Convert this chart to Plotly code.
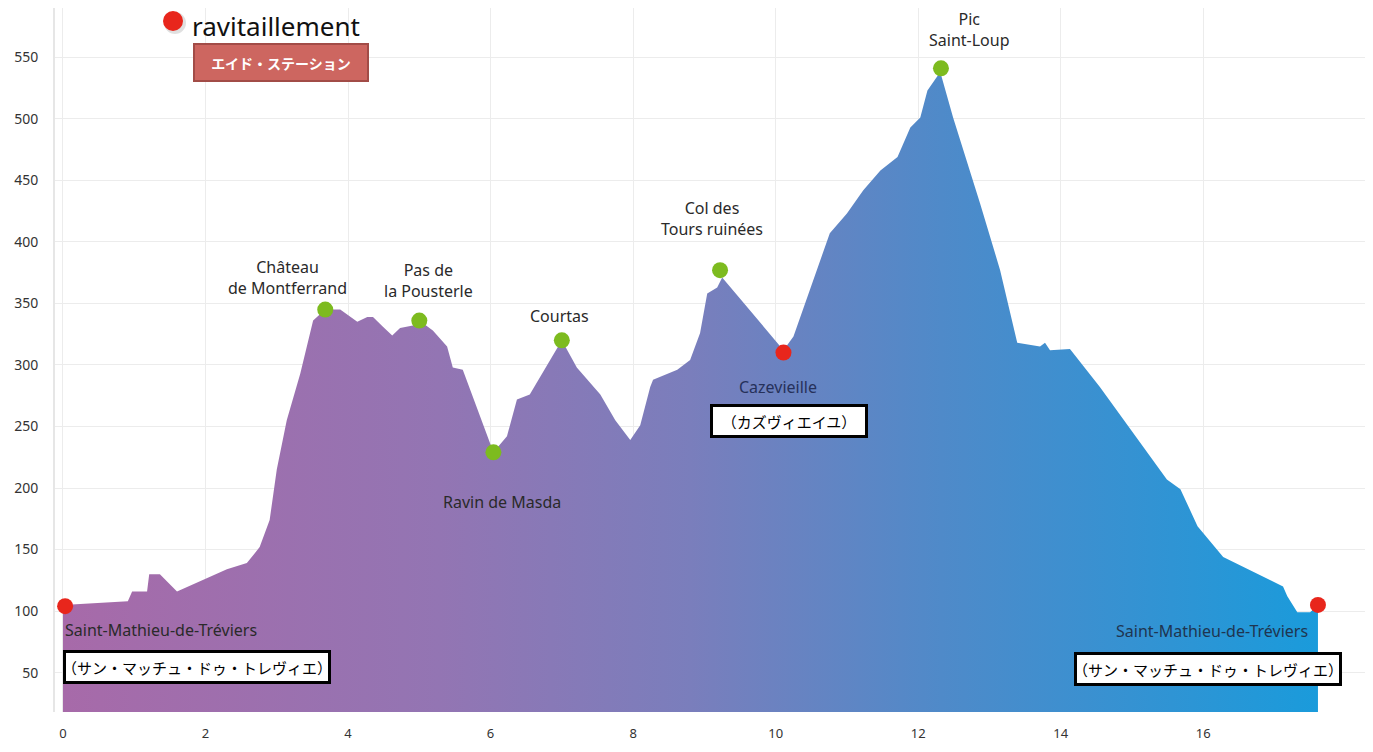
import plotly.graph_objects as go

# ---- elevation profile (distance km, altitude m) ----
dist_km = [0.00, 0.91, 0.97, 1.18, 1.21, 1.36, 1.60, 2.30, 2.58, 2.76, 2.90, 3.00, 3.14,
           3.33, 3.51, 3.68, 3.89, 3.99, 4.13, 4.27, 4.35, 4.49, 4.62, 4.73, 4.91, 5.00,
           5.19, 5.39, 5.47, 5.61, 5.75, 5.95, 6.04, 6.23, 6.37, 6.55, 6.76, 7.00, 7.21,
           7.40, 7.54, 7.75, 7.96, 8.10, 8.24, 8.28, 8.62, 8.80, 8.94, 9.04, 9.18, 9.25,
           10.11, 10.25, 10.48, 10.76, 11.00, 11.23, 11.47, 11.71, 11.89, 12.03, 12.13,
           12.31, 12.49, 12.87, 13.15, 13.39, 13.71, 13.78, 13.85, 14.13, 14.55, 15.02,
           15.49, 15.68, 15.92, 16.28, 17.12, 17.18, 17.32, 17.50, 17.61]
elev_m = [105, 108, 116, 116, 130, 130, 116, 134, 139, 152, 174, 215, 255,
          293, 336, 345, 345, 341, 335, 339, 339, 331, 324, 330, 332, 336,
          328, 315, 298, 296, 274, 242, 229, 242, 272, 276, 296, 320, 298,
          285, 276, 255, 239, 251, 282, 288, 296, 304, 326, 358, 363, 371,
          312, 323, 361, 407, 423, 442, 458, 469, 493, 501, 523,
          538, 501, 431, 377, 318, 315, 318, 312, 313, 282, 245,
          207, 199, 169, 144, 120, 112, 99, 99, 105]

# ---- summits (green points) ----
summit_names = ["Château<br>de Montferrand", "Pas de<br>la Pousterle", "Ravin de Masda",
                "Courtas", "Col des<br>Tours ruinées", "Pic<br>Saint-Loup"]
summit_km = [3.68, 5.00, 6.04, 7.00, 9.22, 12.32]
summit_m = [345, 336, 229, 320, 377, 541]
summit_label_shift = [(-38, 32), (9, 40), (9, -50), (-2, 24), (-8, 52), (29, 39)]

# ---- aid stations (red points) ----
aid_names = ["Saint-Mathieu-de-Tréviers", "Cazevieille", "Saint-Mathieu-de-Tréviers"]
aid_names_ja = ["（サン・マッチュ・ドゥ・トレヴィエ）", "（カズヴィエイユ）", "（サン・マッチュ・ドゥ・トレヴィエ）"]
aid_km = [0.03, 10.11, 17.61]
aid_m = [104, 310, 105]

legend_label = "ravitaillement"
legend_label_ja = "エイド・ステーション"

x_ticks = [0, 2, 4, 6, 8, 10, 12, 14, 16]
y_ticks = [50, 100, 150, 200, 250, 300, 350, 400, 450, 500, 550]

AID_COLOR = "#e8261c"
SUMMIT_COLOR = "#7dbb1f"
LABEL_FONT = dict(family="Noto Sans", size=16, color="#2a2a2a")
JA_FONT = dict(family="Noto Sans CJK JP", size=15, color="#000000")
TICK_FONT = dict(family="Noto Sans", size=14, color="#333333")

fig = go.Figure()

fig.add_trace(go.Scatter(
    x=dist_km, y=elev_m, mode="lines", fill="tozeroy",
    line=dict(width=0, color="rgba(0,0,0,0)"),
    fillgradient=dict(type="horizontal",
                      colorscale=[[0.0, "#a76aa9"], [0.3, "#9375b3"], [0.5, "#7a7ebc"],
                                  [0.7, "#4f8ac9"], [0.85, "#3592d2"], [1.0, "#1a9bdb"]]),
    showlegend=False, hoverinfo="skip"))

fig.add_trace(go.Scatter(
    x=summit_km, y=summit_m, mode="markers",
    marker=dict(size=16, color=SUMMIT_COLOR),
    showlegend=False, name="sommets"))

fig.add_trace(go.Scatter(
    x=aid_km, y=aid_m, mode="markers",
    marker=dict(size=16, color=AID_COLOR),
    showlegend=False, name=legend_label))

annotations = []
for name, xk, ym, (dx, dy) in zip(summit_names, summit_km, summit_m, summit_label_shift):
    annotations.append(dict(x=xk, y=ym, xref="x", yref="y", text=name, showarrow=False,
                            xanchor="center", yanchor="middle",
                            xshift=dx, yshift=dy, font=LABEL_FONT, align="center"))

# aid station labels
aid_fr_layout = [dict(xanchor="left", xshift=-2, yshift=-24, font=LABEL_FONT),
                 dict(xanchor="center", xshift=-5, yshift=-34,
                      font=dict(family="Noto Sans", size=16, color="#26315a")),
                 dict(xanchor="right", xshift=-8, yshift=-26,
                      font=dict(family="Noto Sans", size=16, color="#1f3550"))]
aid_ja_layout = [dict(xanchor="left", xshift=-2, yshift=-61, width=262),
                 dict(xanchor="center", xshift=6, yshift=-68, width=152),
                 dict(xanchor="center", xshift=-110, yshift=-64, width=262)]
for i in range(3):
    a = dict(x=aid_km[i], y=aid_m[i], xref="x", yref="y", text=aid_names[i],
             showarrow=False, yanchor="middle")
    a.update(aid_fr_layout[i])
    annotations.append(a)
    b = dict(x=aid_km[i], y=aid_m[i], xref="x", yref="y", text=aid_names_ja[i],
             showarrow=False, yanchor="middle", bgcolor="#ffffff", bordercolor="#000000",
             borderwidth=3, borderpad=0, height=28, font=JA_FONT)
    b.update(aid_ja_layout[i])
    annotations.append(b)

# key (legend) : red dot + label, and Japanese sub-label box
KEY_X, KEY_Y = 0.0901, 0.9815
annotations.append(dict(x=0.1031, y=0.9751, xref="paper", yref="paper",
                        xanchor="left", yanchor="middle", text=legend_label, showarrow=False,
                        font=dict(family="Noto Sans", size=26, color="#111111")))
annotations.append(dict(x=0.1725, y=0.9219, xref="paper", yref="paper",
                        xanchor="center", yanchor="middle",
                        text="<b>" + legend_label_ja + "</b>", showarrow=False,
                        bgcolor="#cd6660", bordercolor="#a24c47", borderwidth=2,
                        borderpad=0, width=172, height=35,
                        font=dict(family="Noto Sans CJK JP", size=14, color="#ffffff")))

shapes = [
    dict(type="circle", xref="paper", yref="paper", xsizemode="pixel", ysizemode="pixel",
         xanchor=KEY_X, yanchor=KEY_Y, x0=-9, x1=13, y0=-13, y1=9,
         fillcolor="rgba(0,0,0,0.12)", line=dict(width=0), layer="above"),
    dict(type="circle", xref="paper", yref="paper", xsizemode="pixel", ysizemode="pixel",
         xanchor=KEY_X, yanchor=KEY_Y, x0=-10, x1=10, y0=-10, y1=10,
         fillcolor=AID_COLOR, line=dict(width=0), layer="above"),
]

# the page body has an 8px margin: figure is sized/placed to fill the window
fig.update_layout(
    width=1357, height=736,
    margin=dict(l=47, r=0, t=0, b=32, autoexpand=False),
    paper_bgcolor="#ffffff", plot_bgcolor="#ffffff",
    annotations=annotations, shapes=shapes, showlegend=False,
    xaxis=dict(range=[-0.112, 18.27], tickvals=x_ticks, showgrid=True,
               gridcolor="#ececec", gridwidth=1, zeroline=False, showline=False,
               automargin=False, tickfont=dict(family="Noto Sans", size=13, color="#333333"),
               ticklabelstandoff=12),
    yaxis=dict(range=[18, 590], tickvals=y_ticks, showgrid=True,
               gridcolor="#ececec", gridwidth=1, zeroline=False,
               showline=True, linecolor="#e6e6e6", linewidth=2, automargin=False,
               tickfont=TICK_FONT, ticklabelstandoff=12),
)

fig.write_html("out.html")
